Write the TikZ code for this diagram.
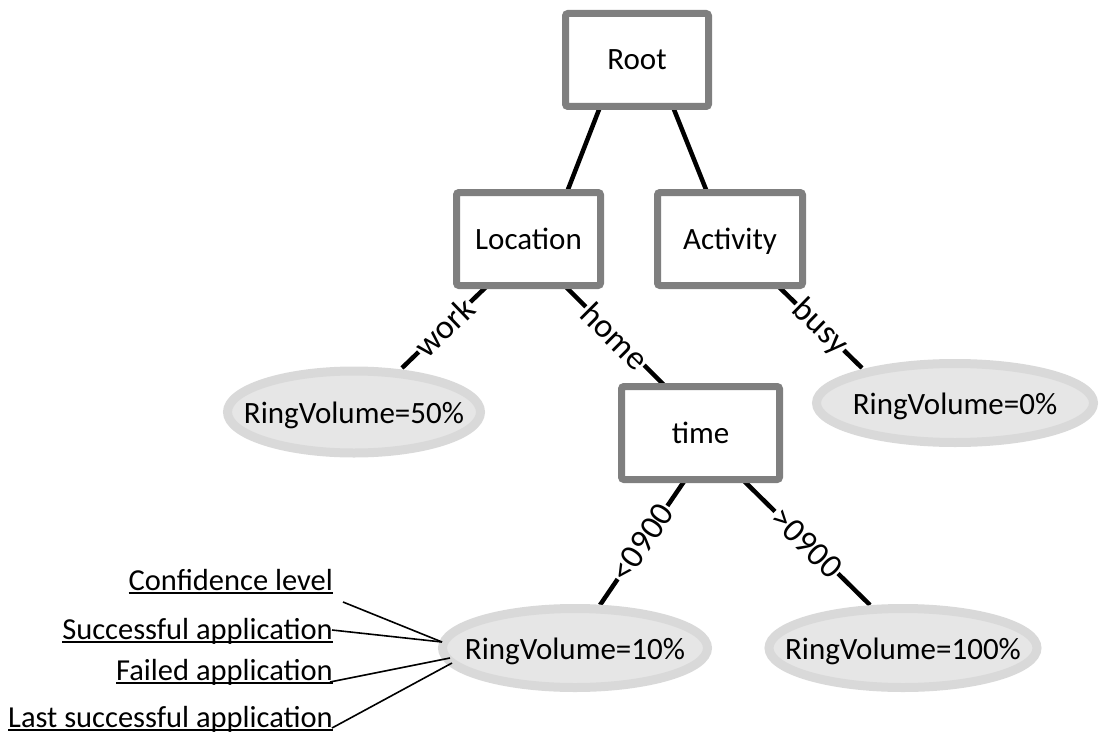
\documentclass[tikz,border=0pt]{standalone}
\usepackage{fontspec}
\setmainfont{Carlito}
\usetikzlibrary{shapes.geometric,calc,backgrounds}
\definecolor{boxgray}{HTML}{7F7F7F}
\definecolor{leafring}{HTML}{D9D9D9}
\definecolor{leaffill}{HTML}{E6E6E6}
% underline drawn at a fixed depth, crossing the descenders
\newcommand\ulbar[1]{\setbox0\hbox{#1}\rlap{\vrule height -2.4pt depth 4.4pt width \wd0}\box0}
\begin{document}
\begin{tikzpicture}[x=1pt,y=-1pt,
  box/.style={draw=boxgray,line width=7pt,rounded corners=2.5pt,fill=white,
    minimum width=#1,minimum height=93pt,inner sep=0pt,
    text height=20pt,text depth=0pt,
    font=\fontsize{31}{36}\selectfont},
  leaf/.style args={#1x#2}{ellipse,draw=leafring,fill=leaffill,line width=9pt,
    minimum width=#1,minimum height=#2,inner sep=0pt,
    text height=23pt,text depth=0pt,
    font=\fontsize{31}{36}\selectfont},
  branch/.style={line width=4.5pt},
  blabel/.style={midway,sloped,fill=white,inner sep=1.2pt,
    font=\fontsize{34}{38}\selectfont},
  note/.style={anchor=base east,inner sep=0pt,font=\fontsize{30.5}{36}\selectfont},
  pointer/.style={line width=1.6pt}]
\useasboundingbox (0,0) rectangle (1105,733);

% decision nodes
\node[box=143pt] (root) at (637,60) {Root};
\node[box=144pt] (loc)  at (528.5,239) {Location};
\node[box=145pt] (act)  at (730,239) {Activity};
\node[box=158pt] (time) at (700.5,433) {time};

% leaves
\node[leaf=253ptx82pt] (e50)  at (354,412) {\makebox[0pt]{RingVolume=50\%}};
\node[leaf=277ptx79pt] (e0)   at (955,403) {\makebox[0pt]{RingVolume=0\%}};
\node[leaf=265ptx79pt] (e10)  at (575,648) {\makebox[0pt]{RingVolume=10\%}};
\node[leaf=268ptx79pt] (e100) at (903,648) {\makebox[0pt]{RingVolume=100\%}};

% branches, kept behind the nodes
\begin{scope}[on background layer]
  \draw[branch] ($(root.south)+(-37,-3)$) -- ($(loc.north)+(38.5,3)$);
  \draw[branch] ($(root.south)+(36,-3)$)  -- ($(act.north)+(-23,3)$);
  \draw[branch] ($(loc.south)+(-41.5,-3)$) -- node[blabel]{work} ($(e50)+(48,-44)$);
  \draw[branch] ($(loc.south)+(36.5,-3)$)  -- node[blabel]{home} ($(time.north)+(-35.5,3)$);
  \draw[branch] ($(act.south)+(48,-3)$)    -- node[blabel]{busy} ($(e0)+(-93,-35)$);
  \draw[branch] ($(time.south)+(-15.5,-3)$) -- node[blabel]{<0900} ($(e10)+(25,-43)$);
  \draw[branch] ($(time.south)+(42.5,-3)$)  -- node[blabel]{>0900} ($(e100)+(-33,-43)$);
\end{scope}

% statistics kept for a leaf
\node[note] (conf) at (333,590) {\ulbar{Confidence level}};
\node[note] (succ) at (333,639) {\ulbar{Successful application}};
\node[note] (fail) at (333,680) {\ulbar{Failed application}};
\node[note] (last) at (333,727) {\ulbar{Last successful application}};

\draw[pointer] ($(conf.base east)+(10,12)$) -- ($(e10)+(-133,-6)$);
\draw[pointer] ($(succ.base east)+(-1,-9)$) -- ($(e10)+(-133,-6)$);
\draw[pointer] ($(fail.base east)+(-3,2)$)  -- ($(e10)+(-125,10)$);
\draw[pointer] ($(last.base east)+(-1,1)$)  -- ($(e10)+(-123,15)$);
\end{tikzpicture}
\end{document}
